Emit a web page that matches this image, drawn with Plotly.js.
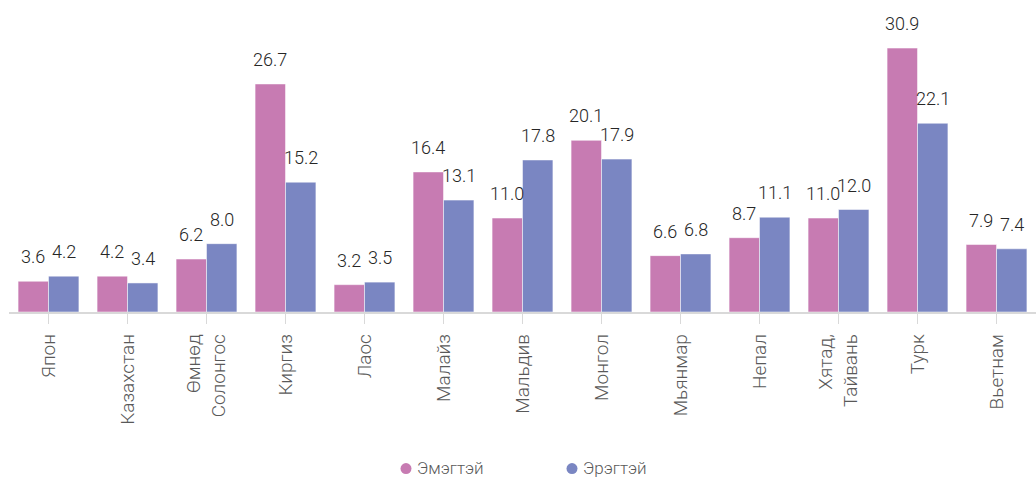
<!DOCTYPE html>
<html>
<head>
<meta charset="utf-8">
<script src="https://cdn.plot.ly/plotly-3.0.1.min.js"></script>
<style>html,body{margin:0;padding:0;background:#fff;}#chart{width:1036px;height:480px;}</style>
</head>
<body>
<div id="chart"></div>
<script>
const categories = ["Япон", "Казахстан", "Өмнөд<br>Солонгос", "Киргиз", "Лаос", "Малайз", "Мальдив", "Монгол", "Мьянмар", "Непал", "Хятад,<br>Тайвань", "Турк", "Вьетнам"];
const women = [3.6, 4.2, 6.2, 26.7, 3.2, 16.4, 11.0, 20.1, 6.6, 8.7, 11.0, 30.9, 7.9];
const men = [4.2, 3.4, 8.0, 15.2, 3.5, 13.1, 17.8, 17.9, 6.8, 11.1, 12.0, 22.1, 7.4];
const seriesNames = ["Эмэгтэй", "Эрэгтэй"];
const colors = ["#c77bb2", "#7a86c2"];

const FONT = "Roboto, 'Liberation Sans', sans-serif";
const xIdx = categories.map((c, i) => i);

const traces = [
  {type: 'bar', x: xIdx, y: women, name: seriesNames[0], marker: {color: colors[0], line: {color: '#ffffff', width: 0.5}}, showlegend: false, hoverinfo: 'y'},
  {type: 'bar', x: xIdx, y: men, name: seriesNames[1], marker: {color: colors[1], line: {color: '#ffffff', width: 0.5}}, showlegend: false, hoverinfo: 'y'}
];

const off = 0.19;
const annotations = [];
const shapes = [];
[women, men].forEach((arr, s) => {
  arr.forEach((v, i) => {
    annotations.push({
      x: i + (s === 0 ? -off : off), y: v, xref: 'x', yref: 'y',
      text: v.toFixed(1), showarrow: false, yanchor: 'bottom', yshift: 12,
      font: {family: FONT, size: 18, weight: 300, color: '#262626'}
    });
  });
});

// legend: circle marker (shape) + label (annotation)
const legendMarkerX = [406, 572];
seriesNames.forEach((n, s) => {
  const px = (legendMarkerX[s] - 9) / 1027;
  shapes.push({
    type: 'circle', xref: 'paper', yref: 'paper',
    xsizemode: 'pixel', ysizemode: 'pixel', xanchor: px, yanchor: -0.502,
    x0: -5.5, x1: 5.5, y0: -5.5, y1: 5.5,
    fillcolor: colors[s], line: {width: 0}
  });
  annotations.push({
    x: px, y: -0.5, xref: 'paper', yref: 'paper',
    xanchor: 'left', yanchor: 'middle', showarrow: false, xshift: 9,
    text: n,
    font: {family: FONT, size: 17, weight: 300, color: '#595959'}
  });
});

const layout = {
  width: 1036, height: 480,
  margin: {l: 9, r: 0, t: 0, b: 168},
  paper_bgcolor: '#ffffff', plot_bgcolor: '#ffffff',
  barmode: 'group', bargap: 0.23, bargroupgap: 0,
  font: {family: FONT, color: '#595959'},
  xaxis: {
    tickmode: 'array', tickvals: xIdx, ticktext: categories,
    range: [-0.5, categories.length - 0.5],
    tickangle: -90, tickfont: {family: FONT, size: 19, weight: 300, color: '#595959'},
    ticklabelstandoff: 3,
    showline: true, linecolor: '#d9d9d9', linewidth: 1.5,
    showgrid: false, zeroline: false,
    ticks: 'outside', tickson: 'boundaries', ticklen: 10, tickcolor: '#d9d9d9', tickwidth: 1.5,
    fixedrange: true
  },
  yaxis: {range: [0, 36.53], visible: false, showgrid: false, zeroline: false, fixedrange: true},
  annotations: annotations,
  shapes: shapes,
  showlegend: false
};

Plotly.newPlot('chart', traces, layout, {displayModeBar: false, staticPlot: true});
</script>
</body>
</html>
